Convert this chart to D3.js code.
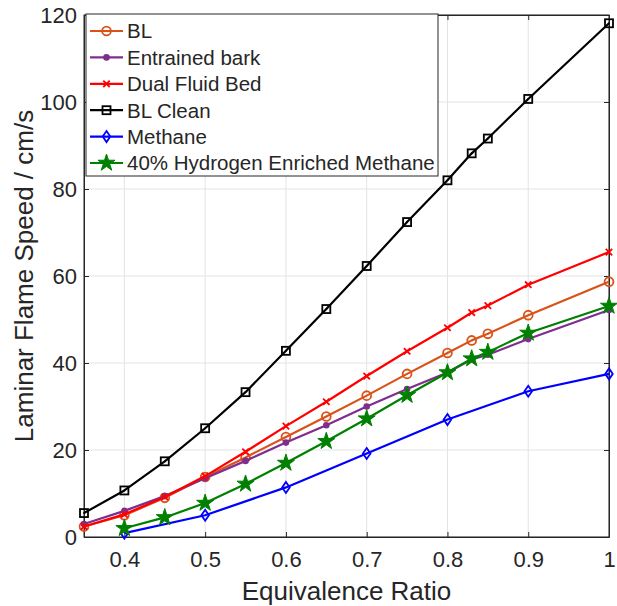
<!DOCTYPE html>
<html>
<head>
<meta charset="utf-8">
<title>Laminar flame speed</title>
<script src="https://d3js.org/d3.v7.min.js"></script>
<style>
  body { margin: 0; background: #fff; }
  text { font-family: "Liberation Sans", Arial, Helvetica, sans-serif; fill: #262626; }
</style>
</head>
<body>
<script>
// equivalence ratios
var phi = [0.35, 0.4, 0.45, 0.5, 0.55, 0.6, 0.65, 0.7, 0.75, 0.8, 0.83, 0.85, 0.9, 1.0];
var phiMethane = [0.4, 0.5, 0.6, 0.7, 0.8, 0.9, 1.0];
var phiH2 = [0.4, 0.45, 0.5, 0.55, 0.6, 0.65, 0.7, 0.75, 0.8, 0.83, 0.85, 0.9, 1.0];

// flame speeds, cm/s
var bl = [2.4, 5.0, 9.0, 13.8, 18.3, 23.0, 27.7, 32.5, 37.5, 42.3, 45.2, 46.7, 51.0, 58.7];
var entrained = [3.0, 6.0, 9.4, 13.5, 17.5, 21.7, 25.7, 30.0, 34.0, 37.8, 40.8, 41.9, 45.5, 52.2];
var dualFluid = [2.4, 5.2, 9.2, 14.0, 19.6, 25.5, 31.1, 37.0, 42.7, 48.1, 51.6, 53.2, 58.0, 65.5];
var blClean = [5.5, 10.7, 17.4, 25.0, 33.3, 42.8, 52.4, 62.3, 72.4, 82.0, 88.2, 91.6, 100.7, 118.1];
var methane = [0.9, 5.0, 11.4, 19.2, 27.0, 33.5, 37.5];
var h2Methane = [2.0, 4.5, 7.8, 12.2, 17.0, 22.0, 27.2, 32.6, 37.8, 41.0, 42.5, 46.9, 53.1];

var xTicks = [0.4, 0.5, 0.6, 0.7, 0.8, 0.9, 1];
var yTicks = [0, 20, 40, 60, 80, 100, 120];

var series = [
  {name: "BL", xs: phi, ys: bl, color: "#D95319", marker: "circle"},
  {name: "Entrained bark", xs: phi, ys: entrained, color: "#7E2F8E", marker: "dot"},
  {name: "Dual Fluid Bed", xs: phi, ys: dualFluid, color: "#FF0000", marker: "x"},
  {name: "BL Clean", xs: phi, ys: blClean, color: "#000000", marker: "square"},
  {name: "Methane", xs: phiMethane, ys: methane, color: "#0000FF", marker: "diamond"},
  {name: "40% Hydrogen Enriched Methane", xs: phiH2, ys: h2Methane, color: "#008000", marker: "star"}
];

var W = 617, H = 606;
var m = {left: 84, right: 8, top: 15, bottom: 69};
var pw = W - m.left - m.right, ph = H - m.top - m.bottom;

var svg = d3.select("body").append("svg").attr("width", W).attr("height", H);

var x = d3.scaleLinear().domain([0.35, 1]).range([m.left, m.left + pw]);
var y = d3.scaleLinear().domain([0, 120]).range([m.top + ph, m.top]);

// grid
var grid = svg.append("g").attr("stroke", "#e3e3e3").attr("stroke-width", 1);
xTicks.forEach(function(t) {
  grid.append("line").attr("x1", x(t)).attr("x2", x(t)).attr("y1", y(0)).attr("y2", y(120));
});
yTicks.forEach(function(t) {
  grid.append("line").attr("x1", x(0.35)).attr("x2", x(1)).attr("y1", y(t)).attr("y2", y(t));
});

// axes with inward ticks, box on
var fmt = function(d) { return d3.format("")(d); };
svg.append("g").attr("transform", "translate(0," + y(0) + ")")
  .call(d3.axisBottom(x).tickValues(xTicks).tickSizeInner(-5).tickSizeOuter(0).tickPadding(14).tickFormat(fmt))
  .call(function(g) { g.selectAll("text").attr("font-size", 22); });
svg.append("g").attr("transform", "translate(0," + y(120) + ")")
  .call(d3.axisTop(x).tickValues(xTicks).tickSizeInner(-5).tickSizeOuter(0).tickFormat(""));
svg.append("g").attr("transform", "translate(" + x(0.35) + ",0)")
  .call(d3.axisLeft(y).tickValues(yTicks).tickSizeInner(-5).tickSizeOuter(0).tickPadding(7))
  .call(function(g) { g.selectAll("text").attr("font-size", 22); });
svg.append("g").attr("transform", "translate(" + x(1) + ",0)")
  .call(d3.axisRight(y).tickValues(yTicks).tickSizeInner(-5).tickSizeOuter(0).tickFormat(""));
svg.selectAll(".domain, .tick line").attr("stroke", "#262626");
svg.selectAll(".tick text").attr("fill", "#262626").attr("font-family", null);
svg.append("rect").attr("x", x(0.35)).attr("y", y(120)).attr("width", pw).attr("height", ph)
  .attr("fill", "none").attr("stroke", "#262626");

// markers
function drawMarker(g, type, color, cx, cy) {
  if (type === "circle") {
    g.append("circle").attr("cx", cx).attr("cy", cy).attr("r", 4.4)
      .attr("fill", "none").attr("stroke", color).attr("stroke-width", 1.8);
  } else if (type === "dot") {
    g.append("circle").attr("cx", cx).attr("cy", cy).attr("r", 3.3).attr("fill", color);
  } else if (type === "x") {
    var s = 3.2;
    g.append("path").attr("d", "M" + (cx - s) + "," + (cy - s) + "L" + (cx + s) + "," + (cy + s) +
      "M" + (cx - s) + "," + (cy + s) + "L" + (cx + s) + "," + (cy - s))
      .attr("stroke", color).attr("stroke-width", 1.8);
  } else if (type === "square") {
    g.append("rect").attr("x", cx - 4).attr("y", cy - 4).attr("width", 8).attr("height", 8)
      .attr("fill", "none").attr("stroke", color).attr("stroke-width", 1.8);
    g.append("rect").attr("x", cx - 0.8).attr("y", cy - 0.8).attr("width", 1.6).attr("height", 1.6).attr("fill", color);
  } else if (type === "diamond") {
    g.append("path").attr("d", "M" + cx + "," + (cy - 5.5) + "L" + (cx + 3.8) + "," + cy + "L" + cx + "," + (cy + 5.5) + "L" + (cx - 3.8) + "," + cy + "Z")
      .attr("fill", "none").attr("stroke", color).attr("stroke-width", 1.8);
  } else if (type === "star") {
    g.append("path").attr("d", d3.symbol().type(d3.symbolStar).size(90)())
      .attr("transform", "translate(" + cx + "," + cy + ")")
      .attr("fill", color).attr("stroke", color).attr("stroke-width", 1);
  }
}

var line = d3.line();
series.forEach(function(s) {
  var pts = s.xs.map(function(v, i) { return [x(v), y(s.ys[i])]; });
  var g = svg.append("g");
  g.append("path").attr("d", line(pts)).attr("fill", "none")
    .attr("stroke", s.color).attr("stroke-width", 2.2).attr("stroke-linejoin", "round");
  pts.forEach(function(p) { drawMarker(g, s.marker, s.color, p[0], p[1]); });
});

// legend
var lg = svg.append("g");
lg.append("rect").attr("x", 86).attr("y", 14).attr("width", 352).attr("height", 162)
  .attr("fill", "#fff").attr("stroke", "#262626");
series.forEach(function(s, i) {
  var ly = 31 + i * 26.4;
  lg.append("line").attr("x1", 90).attr("x2", 123).attr("y1", ly).attr("y2", ly)
    .attr("stroke", s.color).attr("stroke-width", 2.2);
  drawMarker(lg, s.marker, s.color, 106.5, ly);
  lg.append("text").attr("x", 127).attr("y", ly).attr("dy", "0.36em")
    .attr("font-size", 20.5).text(s.name);
});

// axis titles
svg.append("text").attr("x", x(0.675)).attr("y", 600).attr("text-anchor", "middle")
  .attr("font-size", 26).text("Equivalence Ratio");
svg.append("text").attr("transform", "translate(33," + y(60) + ") rotate(-90)")
  .attr("text-anchor", "middle").attr("font-size", 26).text("Laminar Flame Speed / cm/s");
</script>
</body>
</html>
